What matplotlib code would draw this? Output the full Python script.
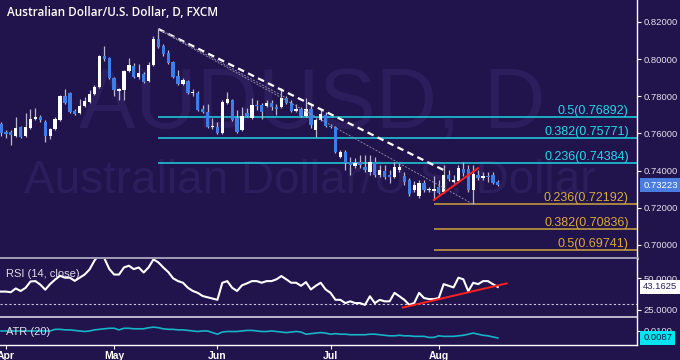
import matplotlib
matplotlib.use("Agg")
import matplotlib.pyplot as plt

plt.rcParams["font.family"] = ["Liberation Sans", "DejaVu Sans"]

BG = "#21134b"
WM = "#2c1e5c"
BLUE = "#3f7ee6"
CYAN_L = "#1fc4d6"; CYAN_T = "#27d6ea"
GOLD_L = "#bf963f"; GOLD_T = "#d9a93a"

# daily candles, AUD/USD
opens = [0.7651, 0.7608, 0.7608, 0.7586, 0.7635, 0.7586, 0.7629, 0.7678, 0.7689, 0.7662,
         0.7586, 0.7624, 0.7673, 0.7802, 0.7818, 0.7721, 0.7710, 0.7748, 0.7769, 0.7812,
         0.7850, 0.8017, 0.8006, 0.7899, 0.7829, 0.7834, 0.7936, 0.7963, 0.7904, 0.7920,
         0.7882, 0.7969, 0.8108, 0.8071, 0.8033, 0.7985, 0.7909, 0.7866, 0.7882, 0.7818,
         0.7818, 0.7732, 0.7716, 0.7635, 0.7635, 0.7603, 0.7764, 0.7780, 0.7683, 0.7619,
         0.7710, 0.7683, 0.7753, 0.7753, 0.7748, 0.7764, 0.7743, 0.7743, 0.7791, 0.7764,
         0.7721, 0.7732, 0.7694, 0.7732, 0.7619, 0.7673, 0.7699, 0.7640, 0.7635, 0.7473,
         0.7500, 0.7447, 0.7425, 0.7447, 0.7420, 0.7393, 0.7447, 0.7377, 0.7398, 0.7377,
         0.7366, 0.7403, 0.7371, 0.7350, 0.7296, 0.7264, 0.7333, 0.7296, 0.7290, 0.7312,
         0.7285, 0.7377, 0.7339, 0.7344, 0.7409, 0.7409, 0.7296, 0.7377, 0.7360, 0.7371,
         0.7377, 0.7339]
highs = [0.7662, 0.7619, 0.7619, 0.7689, 0.7640, 0.7710, 0.7732, 0.7737, 0.7699, 0.7673,
         0.7629, 0.7689, 0.7807, 0.7839, 0.7823, 0.7732, 0.7786, 0.7796, 0.7834, 0.7861,
         0.8022, 0.8071, 0.8012, 0.7904, 0.7845, 0.7942, 0.8006, 0.7979, 0.7974, 0.7931,
         0.7985, 0.8125, 0.8162, 0.8082, 0.8049, 0.7990, 0.7942, 0.7899, 0.7888, 0.7839,
         0.7829, 0.7753, 0.7759, 0.7683, 0.7662, 0.7780, 0.7823, 0.7786, 0.7726, 0.7743,
         0.7737, 0.7791, 0.7780, 0.7764, 0.7780, 0.7780, 0.7759, 0.7845, 0.7802, 0.7780,
         0.7759, 0.7743, 0.7791, 0.7759, 0.7683, 0.7726, 0.7716, 0.7651, 0.7640, 0.7511,
         0.7511, 0.7473, 0.7468, 0.7484, 0.7484, 0.7484, 0.7473, 0.7430, 0.7430, 0.7403,
         0.7447, 0.7441, 0.7393, 0.7360, 0.7344, 0.7350, 0.7350, 0.7312, 0.7371, 0.7350,
         0.7430, 0.7403, 0.7377, 0.7430, 0.7447, 0.7430, 0.7430, 0.7403, 0.7393, 0.7393,
         0.7393, 0.7350]
lows = [0.7586, 0.7576, 0.7538, 0.7581, 0.7576, 0.7581, 0.7624, 0.7673, 0.7662, 0.7554,
        0.7570, 0.7619, 0.7667, 0.7759, 0.7710, 0.7699, 0.7705, 0.7743, 0.7764, 0.7807,
        0.7845, 0.7990, 0.7893, 0.7802, 0.7780, 0.7780, 0.7931, 0.7899, 0.7893, 0.7872,
        0.7877, 0.7963, 0.8060, 0.8017, 0.7974, 0.7899, 0.7861, 0.7861, 0.7812, 0.7802,
        0.7721, 0.7710, 0.7629, 0.7624, 0.7597, 0.7597, 0.7759, 0.7667, 0.7603, 0.7613,
        0.7689, 0.7678, 0.7726, 0.7678, 0.7743, 0.7726, 0.7699, 0.7737, 0.7759, 0.7716,
        0.7716, 0.7689, 0.7689, 0.7629, 0.7581, 0.7667, 0.7635, 0.7629, 0.7495, 0.7468,
        0.7403, 0.7377, 0.7414, 0.7414, 0.7393, 0.7377, 0.7366, 0.7366, 0.7355, 0.7333,
        0.7360, 0.7393, 0.7323, 0.7264, 0.7285, 0.7253, 0.7285, 0.7285, 0.7242, 0.7274,
        0.7280, 0.7344, 0.7333, 0.7339, 0.7371, 0.7285, 0.7219, 0.7350, 0.7350, 0.7339,
        0.7328, 0.7317]
closes = [0.7603, 0.7597, 0.7592, 0.7629, 0.7581, 0.7635, 0.7678, 0.7689, 0.7673, 0.7586,
          0.7624, 0.7678, 0.7802, 0.7764, 0.7716, 0.7705, 0.7748, 0.7775, 0.7812, 0.7850,
          0.8017, 0.8001, 0.7899, 0.7834, 0.7839, 0.7936, 0.7969, 0.7904, 0.7926, 0.7877,
          0.7969, 0.8108, 0.8065, 0.8028, 0.7979, 0.7904, 0.7866, 0.7888, 0.7818, 0.7823,
          0.7726, 0.7716, 0.7635, 0.7640, 0.7603, 0.7769, 0.7786, 0.7673, 0.7608, 0.7694,
          0.7694, 0.7753, 0.7748, 0.7716, 0.7764, 0.7743, 0.7732, 0.7791, 0.7764, 0.7721,
          0.7732, 0.7694, 0.7732, 0.7646, 0.7673, 0.7705, 0.7640, 0.7635, 0.7500, 0.7500,
          0.7441, 0.7430, 0.7441, 0.7430, 0.7403, 0.7447, 0.7377, 0.7403, 0.7366, 0.7366,
          0.7420, 0.7420, 0.7339, 0.7274, 0.7323, 0.7333, 0.7296, 0.7298, 0.7301, 0.7280,
          0.7377, 0.7355, 0.7350, 0.7414, 0.7387, 0.7296, 0.7382, 0.7360, 0.7371, 0.7366,
          0.7333, 0.73223]

rsi = [39.5, 39.5, 39.0, 42.0, 40.0, 42.5, 47.5, 47.8, 45.0, 41.0,
       45.5, 49.0, 52.0, 50.5, 50.5, 48.0, 50.5, 53.0, 57.0, 64.0,
       69.0, 66.0, 57.5, 53.0, 53.0, 58.6, 60.0, 57.3, 58.6, 54.6,
       58.6, 65.0, 62.6, 58.6, 55.0, 50.0, 47.8, 46.5, 42.5, 40.0,
       38.5, 36.0, 35.0, 34.0, 33.0, 46.5, 47.8, 42.5, 40.0, 44.5,
       46.0, 47.8, 47.8, 46.5, 47.8, 47.8, 49.2, 51.8, 49.2, 46.5,
       46.5, 44.1, 47.0, 41.2, 44.1, 46.5, 41.2, 38.5, 33.0, 33.0,
       30.4, 31.8, 30.4, 30.4, 29.0, 35.8, 30.4, 33.0, 31.8, 31.8,
       38.5, 35.8, 33.0, 29.0, 30.4, 38.5, 34.4, 33.6, 33.6, 34.4,
       45.4, 44.1, 42.8, 50.5, 49.2, 39.8, 46.5, 45.4, 47.8, 47.8,
       45.4, 43.1625]

atr = [0.0100, 0.0100, 0.0100, 0.0100, 0.0100, 0.0100, 0.0100, 0.0100, 0.0100, 0.0100,
       0.0100, 0.0103, 0.0103, 0.0102, 0.0102, 0.0101, 0.0100, 0.0099, 0.0100, 0.0102,
       0.0103, 0.0104, 0.0105, 0.0105, 0.0102, 0.0105, 0.0105, 0.0104, 0.0104, 0.0104,
       0.0106, 0.0107, 0.0106, 0.0104, 0.0103, 0.0103, 0.0102, 0.0102, 0.0101, 0.0100,
       0.0099, 0.0100, 0.0100, 0.0097, 0.0094, 0.0098, 0.0099, 0.0099, 0.0099, 0.0100,
       0.0101, 0.0101, 0.0100, 0.0099, 0.0099, 0.0100, 0.0099, 0.0098, 0.0097, 0.0098,
       0.0099, 0.0098, 0.0094, 0.0095, 0.0096, 0.0097, 0.0096, 0.0094, 0.0095, 0.0094,
       0.0094, 0.0093, 0.0093, 0.0093, 0.0093, 0.0094, 0.0094, 0.0093, 0.0092, 0.0091,
       0.0091, 0.0092, 0.0091, 0.0091, 0.0090, 0.0090, 0.0090, 0.0088, 0.0088, 0.0091,
       0.0090, 0.0090, 0.0090, 0.0091, 0.0092, 0.0094, 0.0096, 0.0094, 0.0092, 0.0091,
       0.0089, 0.0087]

month_pos = [1, 23, 44, 67, 89]
month_lab = ["Apr", "May", "Jun", "Jul", "Aug"]
price_ticks = [0.70, 0.72, 0.74, 0.76, 0.78, 0.80, 0.82]

fib_up = [0.76892, 0.75771, 0.74384]
fib_up_lab = ["0.5(0.76892)", "0.382(0.75771)", "0.236(0.74384)"]
fib_dn = [0.72192, 0.70836, 0.69741, 0.68645]
fib_dn_lab = ["0.236(0.72192)", "0.382(0.70836)", "0.5(0.69741)", "0.618(0.68645)"]

# drawn trendlines (bar index, price / rsi)
tl_dash_x = [32, 90]; tl_dash_y = [0.8162, 0.7403]
tl_thin1_x = [32, 96]; tl_thin1_y = [0.8160, 0.7219]
tl_thin2_x = [33, 58]; tl_thin2_y = [0.8150, 0.7791]
tl_red_x = [88, 97]; tl_red_y = [0.7242, 0.7414]
rsi_red_x = [81.7, 102.8]; rsi_red_y = [26.9, 46.0]

last_price, last_rsi, last_atr = 0.73223, 43.1625, 0.0087

fig = plt.figure(figsize=(6.8, 3.6), dpi=100, facecolor=BG)
W = 637 / 680
ax = fig.add_axes([0, 1 - 258 / 360, W, 258 / 360], facecolor=BG)
ar = fig.add_axes([0, 1 - 317 / 360, W, 58 / 360], facecolor=BG, sharex=ax)
aa = fig.add_axes([0, 1 - 345 / 360, W, 27 / 360], facecolor=BG, sharex=ax)

XL = (-0.2, 129.3)
ax.set_xlim(*XL)
ax.set_ylim(0.6930, 0.8318)
ar.set_ylim(19.4, 65.3)
aa.set_ylim(0.0074, 0.0124)

# watermark
ax.text(0.49, 0.504, "AUDUSD, D", transform=ax.transAxes, ha="center", va="baseline",
        fontsize=61, color=WM, zorder=0)
ax.text(0.487, 0.252, "Australian Dollar/U.S. Dollar", transform=ax.transAxes, ha="center",
        va="baseline", fontsize=33, color=WM, zorder=0)

# candles
idx = list(range(len(closes)))
up = [c >= o for o, c in zip(opens, closes)]
ax.vlines(idx, lows, highs, color="#b9b7cc", lw=0.9, zorder=3)
bot = [min(o, c) for o, c in zip(opens, closes)]
hgt = [max(abs(c - o), 0.0003) for o, c in zip(opens, closes)]
ax.bar(idx, hgt, bottom=bot, width=0.68, color=["white" if u else BLUE for u in up],
       edgecolor="none", zorder=4)

# fibonacci levels
for lvl, lab in zip(fib_up, fib_up_lab):
    ax.hlines(lvl, 32, XL[1], color=CYAN_L, lw=1.2, zorder=2)
    ax.annotate(lab, (127.6, lvl), xytext=(0, 2.2), textcoords="offset points", ha="right",
                va="baseline", color=CYAN_T, fontsize=9, annotation_clip=False, clip_on=True)
for lvl, lab in zip(fib_dn, fib_dn_lab):
    ax.hlines(lvl, 88, XL[1], color=GOLD_L, lw=1.2, zorder=2)
    ax.annotate(lab, (127.6, lvl), xytext=(0, 2.2), textcoords="offset points", ha="right",
                va="baseline", color=GOLD_T, fontsize=9, annotation_clip=False, clip_on=True)

# trendlines
ax.plot(tl_dash_x, tl_dash_y, color="white", lw=1.6, ls=(0, (3, 2)), zorder=5)
ax.plot(tl_thin1_x, tl_thin1_y, color="#8c88aa", lw=0.7, ls=(0, (2, 1.5)), zorder=5)
ax.plot(tl_thin2_x, tl_thin2_y, color="#8c88aa", lw=0.7, ls=(0, (2, 1.5)), zorder=5)
ax.plot(tl_red_x, tl_red_y, color="#ff2020", lw=1.4, zorder=6)

# RSI
ar.axhline(30, color="#c8c6d8", lw=0.8, ls=(0, (2, 2)))
ar.plot(idx, rsi, color="white", lw=1.5, zorder=3)
ar.plot(rsi_red_x, rsi_red_y, color="#ff2020", lw=1.4, zorder=4)

# ATR
aa.plot(idx, atr, color="#17b3c6", lw=1.2)

fig.text(7 / 680, 1 - 13 / 360, "Australian Dollar/U.S. Dollar, D, FXCM", color="white",
         fontsize=8.5, va="center", ha="left", family=["Open Sans", "DejaVu Sans"],
         fontweight="semibold")
ar.text(0.009, 0.74, "RSI (14, close)", transform=ar.transAxes, color="#dcdce6", fontsize=8,
        va="center", zorder=2)
aa.text(0.009, 0.48, "ATR (20)", transform=aa.transAxes, color="#dcdce6", fontsize=8,
        va="center")

for a in (ax, ar, aa):
    a.yaxis.tick_right()
    a.tick_params(axis="y", direction="out", length=3, width=0.8, colors="white",
                  labelcolor="#e2e2ec", labelsize=6.8, pad=2)
    for s in ("top", "left"):
        a.spines[s].set_visible(False)
    a.spines["right"].set_color("white")
    a.spines["right"].set_linewidth(1)
    a.tick_params(axis="x", bottom=False, labelbottom=False)

ax.spines["bottom"].set_color("#9c9ab4"); ax.spines["bottom"].set_linewidth(2.2)
ar.spines["bottom"].set_color("#d6d4e2"); ar.spines["bottom"].set_linewidth(1.2)
aa.spines["bottom"].set_color("white"); aa.spines["bottom"].set_linewidth(1)

ax.set_yticks(price_ticks)
ax.set_yticklabels(["%.5f" % v for v in price_ticks])
ar.set_yticks([25, 50])
ar.set_yticklabels(["25.0000", "50.0000"])
aa.set_yticks([0.0100])
aa.set_yticklabels(["0.0100"])

aa.set_xticks(month_pos)
aa.set_xticklabels(month_lab)
aa.tick_params(axis="x", bottom=True, labelbottom=True, length=3, width=0.8, colors="white",
               labelcolor="white", labelsize=7.5, pad=1)
for t in aa.get_xticklabels():
    t.set_fontweight("bold")

# value boxes on the right scale
def box(a, y, txt, fc, tc):
    a.annotate(txt, xy=(1, y), xycoords=("axes fraction", "data"), xytext=(4.5, 0),
               textcoords="offset points", ha="left", va="center", fontsize=6.8, color=tc,
               bbox=dict(boxstyle="square,pad=0.3", fc=fc, ec="none"), annotation_clip=False)

box(ax, last_price, "0.73223", "#4a7de0", "white")
box(ar, last_rsi, "43.1625", "white", "#2a2060")
box(aa, last_atr, "0.0087", "#00e6f0", "#1a1a40")

fig.savefig("out.png", dpi=100, facecolor=BG)
